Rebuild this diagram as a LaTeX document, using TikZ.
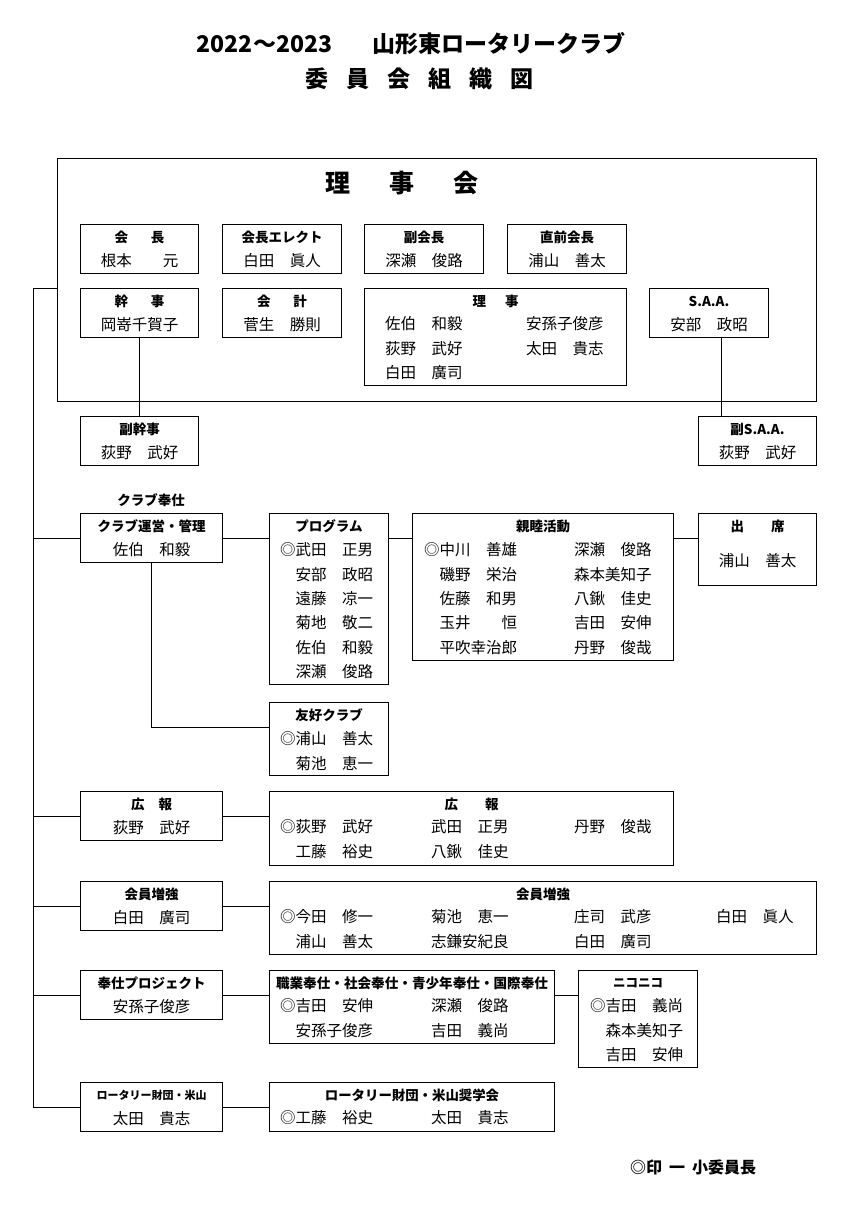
\documentclass[tikz,border=0pt]{standalone}
\usepackage{fontspec}
\setmainfont{Noto Sans CJK JP}
\usepackage{tikz}

\newcommand{\obox}[5]{\node[obox, minimum width={#4-#2}, minimum height={#5-#3}] (#1) at (#2,#3) {};}
\newcommand{\ohead}[3][]{\node[ohead,#1] (#2-h) at ([yshift=-13pt]#2.north) {#3};}
\newcommand{\oname}[3][37]{\node[oname] (#2-n) at ([yshift=-#1pt]#2.north) {#3};}
\newcommand{\members}[4]{\foreach \nm [count=\i] in {#4} {\node[member] (#1-\i) at (#2,{#3+(\i-1)*24.3}) {\nm};}}

\begin{document}
\begin{tikzpicture}[x=1pt, y=-1pt,
  obox/.style={draw, line width=1pt, inner sep=0pt, anchor=north west},
  ohead/.style={font=\bfseries\fontsize{13.5}{15}\selectfont, inner sep=0pt},
  oname/.style={font=\fontsize{15.5}{18}\selectfont, inner sep=0pt},
  member/.style={oname, anchor=west},
  ttl/.style={font=\bfseries\fontsize{23}{26}\selectfont, inner sep=0pt},
  link/.style={line width=0.9pt}]
  \fill[white] (0,0) rectangle (848,1213);
  \useasboundingbox (0,0) rectangle (848,1213);
  % title
  \node[ttl] (title) at (411,44) {2022～2023\hspace{40pt}山形東ロータリークラブ};
  \foreach \ch [count=\i] in {委,員,会,組,織,図}
    \node[ttl] (sub-\i) at ({317+(\i-1)*41},79) {\ch};
  % board of directors
  \obox{board}{57}{158}{816}{401}
  \foreach \ch [count=\i] in {理,事,会}
    \node[ttl, font=\bfseries\fontsize{25}{28}\selectfont] (rj-\i) at ({338+(\i-1)*64},183) {\ch};
  \obox{kaichou}{80}{224}{198}{273}
  \ohead{kaichou}{会\hspace{23pt}長}
  \oname{kaichou}{根本　　元}
  \obox{elect}{222}{224}{341}{273}
  \ohead{elect}{会長エレクト}
  \oname{elect}{白田　眞人}
  \obox{fuku}{364}{224}{483}{273}
  \ohead{fuku}{副会長}
  \oname{fuku}{深瀬　俊路}
  \obox{chokuzen}{507}{224}{626}{273}
  \ohead{chokuzen}{直前会長}
  \oname{chokuzen}{浦山　善太}
  \obox{kanji}{80}{288}{198}{337}
  \ohead{kanji}{幹\hspace{23pt}事}
  \oname{kanji}{岡嵜千賀子}
  \obox{kaikei}{222}{288}{341}{337}
  \ohead{kaikei}{会\hspace{23pt}計}
  \oname{kaikei}{菅生　勝則}
  \obox{riji}{364}{288}{626}{385}
  \ohead{riji}{理\hspace{19pt}事}
  \members{riji-a}{385}{324}{佐伯　和毅,荻野　武好,白田　廣司}
  \members{riji-b}{526}{324}{安孫子俊彦,太田　貴志}
  \obox{saa}{649}{288}{768}{337}
  \ohead{saa}{S.A.A.}
  \oname{saa}{安部　政昭}
  % deputies
  \obox{fukukanji}{80}{416}{198}{465}
  \ohead{fukukanji}{副幹事}
  \oname{fukukanji}{荻野　武好}
  \obox{fukusaa}{698}{416}{816}{465}
  \ohead{fukusaa}{副S.A.A.}
  \oname{fukusaa}{荻野　武好}
  \draw[link] (kanji.south) -- (fukukanji.north);
  \draw[link] ([xshift=12.5pt]saa.south) -- ([xshift=12.5pt]saa.south |- fukusaa.north);
  % club service
  \node[ohead] (clubsvc) at (151,500) {クラブ奉仕};
  \obox{unei}{80}{513}{222}{562}
  \ohead{unei}{クラブ運営・管理}
  \oname{unei}{佐伯　和毅}
  \obox{prog}{269}{513}{388}{684}
  \ohead{prog}{プログラム}
  \members{prog}{280}{550}{◎武田　正男,　安部　政昭,　遠藤　凉一,　菊地　敬二,　佐伯　和毅,　深瀬　俊路}
  \obox{shinboku}{412}{513}{673}{660}
  \ohead{shinboku}{親睦活動}
  \members{shinboku-a}{424}{550}{◎中川　善雄,　磯野　栄治,　佐藤　和男,　玉井　　恒,　平吹幸治郎}
  \members{shinboku-b}{574}{550}{深瀬　俊路,森本美知子,八鍬　佳史,吉田　安伸,丹野　俊哉}
  \obox{shusseki}{698}{513}{816}{585}
  \ohead{shusseki}{出\hspace{27pt}席}
  \oname[48]{shusseki}{浦山　善太}
  \obox{yuukou}{269}{702}{388}{775}
  \ohead{yuukou}{友好クラブ}
  \members{yuukou}{280}{739}{◎浦山　善太,　菊池　恵一}
  \draw[link] (unei.east) -- (unei.east -| prog.west);
  \draw[link] (unei.east -| prog.east) -- (unei.east -| shinboku.west);
  \draw[link] (unei.east -| shinboku.east) -- (unei.east -| shusseki.west);
  \draw[link] (unei.south) |- ([yshift=12pt]yuukou.west);
  % public relations
  \obox{kouhou}{80}{791}{222}{840}
  \ohead{kouhou}{広\hspace{14pt}報}
  \oname{kouhou}{荻野　武好}
  \obox{kouhouc}{269}{791}{673}{865}
  \ohead{kouhouc}{広\hspace{27pt}報}
  \members{kouhouc-a}{280}{827}{◎荻野　武好,　工藤　裕史}
  \members{kouhouc-b}{431}{827}{武田　正男,八鍬　佳史}
  \members{kouhouc-c}{574}{827}{丹野　俊哉}
  \draw[link] (kouhou.east) -- (kouhou.east -| kouhouc.west);
  % membership
  \obox{zoukyou}{80}{881}{222}{930}
  \ohead{zoukyou}{会員増強}
  \oname{zoukyou}{白田　廣司}
  \obox{zoukyouc}{269}{881}{816}{954}
  \ohead{zoukyouc}{会員増強}
  \members{zoukyouc-a}{280}{917}{◎今田　修一,　浦山　善太}
  \members{zoukyouc-b}{431}{917}{菊池　恵一,志鎌安紀良}
  \members{zoukyouc-c}{574}{917}{庄司　武彦,白田　廣司}
  \members{zoukyouc-d}{716}{917}{白田　眞人}
  \draw[link] (zoukyou.east) -- (zoukyou.east -| zoukyouc.west);
  % service projects
  \obox{houshi}{80}{970}{222}{1019}
  \ohead{houshi}{奉仕プロジェクト}
  \oname{houshi}{安孫子俊彦}
  \obox{houshic}{269}{970}{554}{1043}
  \ohead[font=\bfseries\fontsize{13.6}{16}\selectfont]{houshic}{職業奉仕・社会奉仕・青少年奉仕・国際奉仕}
  \members{houshic-a}{280}{1006}{◎吉田　安伸,　安孫子俊彦}
  \members{houshic-b}{431}{1006}{深瀬　俊路,吉田　義尚}
  \obox{niko}{578}{970}{697}{1067}
  \ohead[font=\bfseries\fontsize{12.5}{15}\selectfont]{niko}{ニコニコ}
  \members{niko}{590}{1006}{◎吉田　義尚,　森本美知子,　吉田　安伸}
  \draw[link] (houshi.east) -- (houshi.east -| houshic.west);
  \draw[link] (houshi.east -| houshic.east) -- (houshi.east -| niko.west);
  % rotary foundation
  \obox{zaidan}{80}{1082}{222}{1131}
  \ohead[font=\bfseries\fontsize{11}{13}\selectfont]{zaidan}{ロータリー財団・米山}
  \oname{zaidan}{太田　貴志}
  \obox{zaidanc}{269}{1082}{554}{1131}
  \ohead[font=\bfseries\fontsize{13.4}{15}\selectfont]{zaidanc}{ロータリー財団・米山奨学会}
  \members{zaidanc-a}{280}{1118}{◎工藤　裕史}
  \members{zaidanc-b}{431}{1118}{太田　貴志}
  \draw[link] (zaidan.east) -- (zaidan.east -| zaidanc.west);
  % spine on the left
  \coordinate (spine) at (33,288);
  \draw[link] (board.west |- kanji.north) -| (spine |- zaidan.west);
  \foreach \b in {unei,kouhou,zoukyou,houshi,zaidan}
    \draw[link] (spine |- \b.west) -- (\b.west);
  % note
  \node[ohead, font=\bfseries\fontsize{16}{18}\selectfont, anchor=west] (note) at (630,1167) {◎印\hspace{7pt}一\hspace{7pt}小委員長};
\end{tikzpicture}
\end{document}
